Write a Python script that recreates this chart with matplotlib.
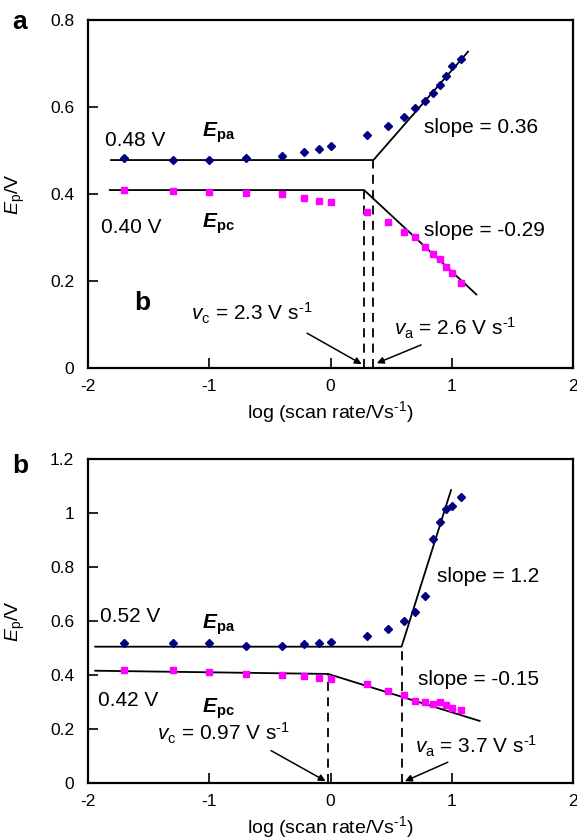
import matplotlib as mpl
mpl.use("Agg")
import matplotlib.pyplot as plt
import numpy as np

plt.rcParams['font.family'] = ['Liberation Sans', 'DejaVu Sans']
plt.rcParams['mathtext.fontset'] = 'custom'
plt.rcParams['mathtext.rm'] = 'Liberation Sans'
plt.rcParams['mathtext.it'] = 'Liberation Sans:italic'
plt.rcParams['mathtext.bf'] = 'Liberation Sans:bold'
plt.rcParams['mathtext.bfit'] = 'Liberation Sans:italic:bold'
plt.rcParams['axes.unicode_minus'] = False

# scan rates (V/s), same for both panels
scan_rate = np.array([0.02, 0.05, 0.1, 0.2, 0.4, 0.6, 0.8, 1, 2, 3, 4, 5, 6, 7, 8, 9, 10, 12])
log_v = np.log10(scan_rate)

# panel a
epa_a = [0.482, 0.479, 0.479, 0.482, 0.488, 0.497, 0.503, 0.510, 0.536, 0.557,
         0.578, 0.597, 0.614, 0.632, 0.651, 0.671, 0.695, 0.710]
epc_a = [0.409, 0.407, 0.404, 0.402, 0.399, 0.390, 0.385, 0.381, 0.358, 0.336,
         0.313, 0.300, 0.279, 0.263, 0.250, 0.233, 0.218, 0.195]
# fit lines panel a: (x, y) vertices
fit_pa_a_x = [-1.81, 0.354, 1.134]
fit_pa_a_y = [0.478, 0.478, 0.727]
fit_pc_a_x = [-1.82, 0.277, 1.203]
fit_pc_a_y = [0.409, 0.409, 0.169]

# panel b
epa_b = [0.520, 0.520, 0.520, 0.509, 0.509, 0.514, 0.517, 0.523, 0.544, 0.572,
         0.601, 0.632, 0.694, 0.904, 0.968, 1.016, 1.027, 1.058]
epc_b = [0.419, 0.420, 0.411, 0.404, 0.400, 0.395, 0.390, 0.386, 0.365, 0.342,
         0.326, 0.305, 0.299, 0.291, 0.299, 0.289, 0.277, 0.270]
fit_pa_b_x = [-1.94, 0.586, 0.994]
fit_pa_b_y = [0.505, 0.505, 1.085]
fit_pc_b_x = [-1.94, -0.02, 1.23]
fit_pc_b_y = [0.416, 0.404, 0.230]

HY = '\u2010'  # plain hyphen for the "-1" superscripts

fig = plt.figure(figsize=(5.77, 8.39), dpi=100)
ax1 = fig.add_axes([0.1525, 0.5614, 0.8406, 0.4148])
ax2 = fig.add_axes([0.1525, 0.0667, 0.8406, 0.3862])


def style_axes(ax, ymax, yticks, yticklabels, label_y):
    ax.set_xlim(-2, 2)
    ax.set_ylim(0, ymax)
    ax.set_xticks([-2, -1, 0, 1, 2])
    ax.set_yticks(yticks)
    ax.set_yticklabels(yticklabels)
    ax.tick_params(direction='in', length=7, width=1.2, labelsize=12.5)
    ax.tick_params(axis='x', pad=8)
    ax.tick_params(axis='y', pad=10)
    for sp in ax.spines.values():
        sp.set_linewidth(1.6)
    ax.set_xlabel('log (scan rate/Vs$^{\\mathrm{' + HY + '1}}$)', fontsize=14)
    ax.set_ylabel('$\\mathit{E}_{\\mathrm{p}}$/V', fontsize=14)
    ax.yaxis.set_label_coords(-0.125, 0.5)
    ax.xaxis.set_label_coords(0.5, label_y)


def panel(ax, epa, epc, pax, pay, pcx, pcy):
    ax.plot(log_v, epa, 'D', color='#000080', markersize=4, zorder=3)
    ax.plot(log_v, epc, 's', color='#FF00FF', markersize=4.5, zorder=3)
    ax.plot(pax, pay, color='black', lw=1.3)
    ax.plot(pcx, pcy, color='black', lw=1.3)
    ax.plot([pax[1], pax[1]], [0, pay[1]], color='black', lw=1.3, ls=(0, (5, 3.5)))
    ax.plot([pcx[1], pcx[1]], [0, pcy[1]], color='black', lw=1.3, ls=(0, (5, 3.5)))


def rate_text(sub, val):
    return '$\\mathit{v}_{\\mathrm{' + sub + '}}$ = ' + val + ' V s$^{\\mathrm{' + HY + '1}}$'


arrow = dict(arrowstyle='-|>', color='black', lw=1.1, mutation_scale=10, shrinkA=0, shrinkB=0)

# panel a
panel(ax1, epa_a, epc_a, fit_pa_a_x, fit_pa_a_y, fit_pc_a_x, fit_pc_a_y)
style_axes(ax1, 0.8, [0, 0.2, 0.4, 0.6, 0.8], ['0', '0.2', '0.4', '0.6', '0.8'], -0.09)
ax1.text(-1.86, 0.524, '0.48 V', fontsize=15, va='center')
ax1.text(-1.06, 0.54, '$\\mathbfit{E}_{\\mathbf{pa}}$', fontsize=15, va='center')
ax1.text(0.77, 0.552, 'slope = 0.36', fontsize=15, va='center')
ax1.text(-1.89, 0.322, '0.40 V', fontsize=15, va='center')
ax1.text(-1.06, 0.332, '$\\mathbfit{E}_{\\mathbf{pc}}$', fontsize=15, va='center')
ax1.text(0.77, 0.317, 'slope = -0.29', fontsize=15, va='center')
ax1.text(-1.62, 0.149, 'b', fontsize=19, fontweight='bold', va='center')
ax1.text(-1.15, 0.126, rate_text('c', '2.3'), fontsize=15, va='center')
ax1.text(0.52, 0.09, rate_text('a', '2.6'), fontsize=15, va='center')
ax1.annotate('', xy=(0.257, 0.009), xytext=(-0.193, 0.080), arrowprops=arrow)
ax1.annotate('', xy=(0.382, 0.011), xytext=(0.747, 0.053), arrowprops=arrow)

# panel b
panel(ax2, epa_b, epc_b, fit_pa_b_x, fit_pa_b_y, fit_pc_b_x, fit_pc_b_y)
style_axes(ax2, 1.2, [0, 0.2, 0.4, 0.6, 0.8, 1.0, 1.2],
           ['0', '0.2', '0.4', '0.6', '0.8', '1', '1.2'], -0.097)
ax2.text(-1.9, 0.616, '0.52 V', fontsize=15, va='center')
ax2.text(-1.06, 0.585, '$\\mathbfit{E}_{\\mathbf{pa}}$', fontsize=15, va='center')
ax2.text(0.88, 0.764, 'slope = 1.2', fontsize=15, va='center')
ax2.text(-1.92, 0.307, '0.42 V', fontsize=15, va='center')
ax2.text(-1.06, 0.275, '$\\mathbfit{E}_{\\mathbf{pc}}$', fontsize=15, va='center')
ax2.text(0.72, 0.385, 'slope = -0.15', fontsize=15, va='center')
ax2.text(-1.43, 0.185, rate_text('c', '0.97'), fontsize=15, va='center')
ax2.text(0.70, 0.134, rate_text('a', '3.7'), fontsize=15, va='center')
ax2.annotate('', xy=(-0.04, 0.007), xytext=(-0.49, 0.120), arrowprops=arrow)
ax2.annotate('', xy=(0.614, 0.007), xytext=(0.967, 0.077), arrowprops=arrow)

# panel letters
fig.text(12 / 577, 1 - 22 / 839, 'a', fontsize=19, fontweight='bold', va='center')
fig.text(12 / 577, 1 - 466 / 839, 'b', fontsize=19, fontweight='bold', va='center')

fig.savefig('out.png', dpi=100)
